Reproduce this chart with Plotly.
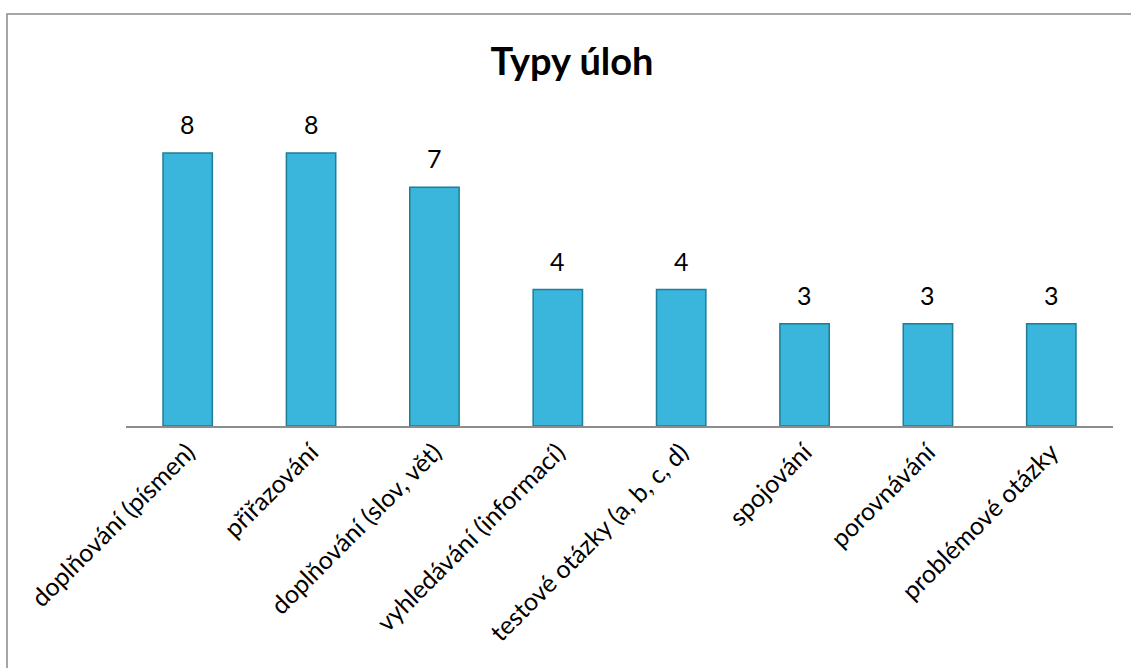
import plotly.graph_objects as go

categories = ["doplňování (písmen)", "přiřazování", "doplňování (slov, vět)",
              "vyhledávání (informací)", "testové otázky (a, b, c, d)",
              "spojování", "porovnávání", "problémové otázky"]
values = [8, 8, 7, 4, 4, 3, 3, 3]

W, H = 1131, 668
L, R, T, B = 126, 18, 119, 242
pw, ph = W - L - R, H - T - B
FONT = "Lato, Open Sans, sans-serif"

fig = go.Figure()
fig.add_trace(go.Bar(
    x=categories, y=values,
    width=0.4,
    marker=dict(color="#3ab5db", line=dict(color="#1f7d97", width=1.5)),
    hoverinfo="x+y",
))

annotations = [dict(x=c, y=v, xref="x", yref="y", text=str(v), showarrow=False,
                    yanchor="bottom", yshift=12,
                    font=dict(size=25, family=FONT, color="#000000"))
               for c, v in zip(categories, values)]

fig.update_layout(
    width=W, height=H,
    margin=dict(l=L, r=R, t=T, b=B),
    paper_bgcolor="white", plot_bgcolor="white",
    font=dict(family=FONT, color="#000000"),
    title=dict(text="<b>Typy úloh</b>", x=572 / W, xanchor="center",
               y=1 - 62 / H, yanchor="middle",
               font=dict(size=38, family=FONT)),
    showlegend=False,
    annotations=annotations,
    xaxis=dict(tickangle=-45, tickfont=dict(size=25), showline=True,
               linecolor="#8c8c8c", linewidth=1.5, ticks="", showgrid=False,
               automargin=False),
    yaxis=dict(range=[0, 9], visible=False, showgrid=False, automargin=False),
    shapes=[dict(type="rect", xref="paper", yref="paper",
                 x0=(7 - L) / pw, x1=(W + 10 - L) / pw,
                 y0=(H - B - (H + 10)) / ph, y1=(H - B - 14) / ph,
                 line=dict(color="#888888", width=1.5), layer="below")],
)

fig.write_html("out.html")
